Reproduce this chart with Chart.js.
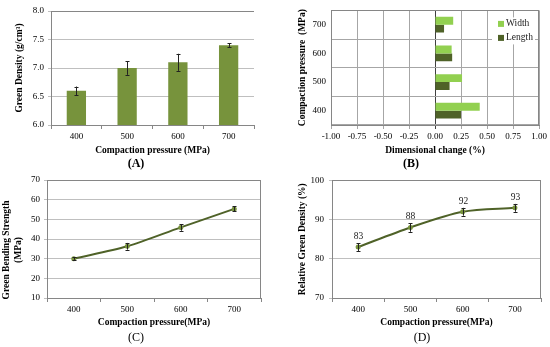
<!DOCTYPE html>
<html><head><meta charset="utf-8">
<script src="https://cdn.jsdelivr.net/npm/chart.js@4.4.0/dist/chart.umd.min.js"></script>
<style>
body{margin:0;background:#fff;}
#wrap{position:relative;width:550px;height:347px;background:#fff;overflow:hidden;}
canvas{position:absolute;}
</style></head><body>
<div id="wrap">
<canvas id="cA" width="275" height="175" style="left:0;top:0"></canvas>
<canvas id="cB" width="275" height="175" style="left:275px;top:0"></canvas>
<canvas id="cC" width="275" height="177" style="left:0;top:170px"></canvas>
<canvas id="cD" width="275" height="177" style="left:275px;top:170px"></canvas>
</div>
<script>
// ---- data ----
const pressures = ['400', '500', '600', '700'];
const greenDensity = [6.6, 7.0, 7.1, 7.4];
const greenDensityErr = [0.075, 0.12, 0.15, 0.03];
const dimPressures = ['700', '600', '500', '400'];
const widthChange = [0.175, 0.16, 0.26, 0.43];
const lengthChange = [0.087, 0.165, 0.14, 0.25];
const bendingStrength = [30, 36.3, 45.9, 55.3];
const bendingErr = [0.6, 1.7, 1.7, 1.3];
const relDensity = [83, 88, 92, 93];
const relDensityErr = [1, 1.1, 1, 1];

const SERIF = '"Liberation Serif", "Times New Roman", serif';
const AXIS = '#868686', GRID = '#BFBFBF';
Chart.defaults.font.family = SERIF;
Chart.defaults.color = '#000';

const frame = {
  id: 'frame',
  afterDraw(chart, args, o) {
    const {ctx, chartArea: a} = chart;
    ctx.save(); ctx.strokeStyle = o.color || AXIS; ctx.lineWidth = 1;
    if (o.top) { ctx.beginPath(); ctx.moveTo(a.left, Math.round(a.top) + 0.5); ctx.lineTo(a.right, Math.round(a.top) + 0.5); ctx.stroke(); }
    if (o.right) { ctx.beginPath(); ctx.moveTo(Math.round(a.right) - 0.5, a.top); ctx.lineTo(Math.round(a.right) - 0.5, a.bottom); ctx.stroke(); }
    ctx.restore();
  }
};
const errorBars = {
  id: 'errorBars',
  afterDatasetsDraw(chart, args, o) {
    if (!o.errors) return;
    const {ctx} = chart; const ys = chart.scales.y;
    const meta = chart.getDatasetMeta(0); const data = chart.data.datasets[0].data;
    ctx.save(); ctx.strokeStyle = o.color || '#222'; ctx.lineWidth = 1;
    meta.data.forEach((el, i) => {
      const x = Math.round(el.x) + 0.5;
      const y1 = ys.getPixelForValue(data[i] - o.errors[i]);
      const y2 = ys.getPixelForValue(data[i] + o.errors[i]);
      ctx.beginPath();
      ctx.moveTo(x, y1); ctx.lineTo(x, y2);
      ctx.moveTo(x - 2, Math.round(y1) + 0.5); ctx.lineTo(x + 2, Math.round(y1) + 0.5);
      ctx.moveTo(x - 2, Math.round(y2) + 0.5); ctx.lineTo(x + 2, Math.round(y2) + 0.5);
      ctx.stroke();
      if (o.labels) {
        ctx.fillStyle = '#222'; ctx.font = '9.5px ' + SERIF; ctx.textAlign = 'center'; ctx.textBaseline = 'bottom';
        ctx.fillText(String(data[i]), x, y2 - 2);
      }
    });
    ctx.restore();
  }
};
const boxLegend = {
  id: 'boxLegend',
  afterDraw(chart) {
    const {ctx, chartArea: a} = chart;
    const x0 = a.right - 47, y0 = a.top + 7;
    ctx.save();
    ctx.fillStyle = '#fff'; ctx.fillRect(x0, y0, 43, 27);
    ctx.font = '9.5px ' + SERIF; ctx.textBaseline = 'middle'; ctx.textAlign = 'left';
    chart.data.datasets.forEach((ds, i) => {
      const cy = y0 + 6.5 + i * 14;
      ctx.fillStyle = ds.backgroundColor; ctx.fillRect(x0 + 6, cy - 3, 6, 6);
      ctx.fillStyle = '#222'; ctx.fillText(ds.label, x0 + 14, cy);
    });
    ctx.restore();
  }
};
const panelLabel = {
  id: 'panelLabel',
  afterDraw(chart, args, o) {
    const {ctx} = chart;
    ctx.save();
    ctx.fillStyle = '#000'; ctx.font = (o.bold ? 'bold ' : '') + '12px ' + SERIF;
    ctx.textAlign = 'center'; ctx.textBaseline = 'middle';
    ctx.fillText(o.text, o.x, o.y);
    ctx.restore();
  }
};
const sideTitle = {
  id: 'sideTitle',
  afterDraw(chart, args, o) {
    if (!o.lines) return;
    const {ctx} = chart;
    ctx.save();
    ctx.fillStyle = '#000'; ctx.font = 'bold 9.5px ' + SERIF;
    ctx.textAlign = 'center'; ctx.textBaseline = 'middle';
    o.lines.forEach((t, i) => {
      ctx.save(); ctx.translate(o.x + i * o.gap, o.y); ctx.rotate(-Math.PI / 2);
      ctx.fillText(t, 0, 0); ctx.restore();
    });
    ctx.restore();
  }
};

function titleFont() { return {family: SERIF, size: 9.5, weight: 'bold'}; }
function tickFont() { return {family: SERIF, size: 9}; }

// ---- A ----
new Chart(document.getElementById('cA'), {
  type: 'bar',
  data: {labels: pressures, datasets: [{data: greenDensity, backgroundColor: '#77933C', barPercentage: 0.38, categoryPercentage: 1}]},
  options: {
    responsive: false, animation: false, devicePixelRatio: 1,
    layout: {padding: {left: 0, right: 21, top: 11, bottom: 15}},
    plugins: {legend: {display: false}, tooltip: {enabled: false},
      errorBars: {errors: greenDensityErr}, frame: {top: true},
      panelLabel: {text: '(A)', x: 136, y: 164, bold: true}},
    scales: {
      x: {grid: {offset: true, drawOnChartArea: false, tickLength: 4, color: AXIS}, border: {color: AXIS},
        ticks: {font: tickFont(), padding: 2},
        title: {display: true, text: 'Compaction pressure (MPa)', font: titleFont(), padding: {top: 0, bottom: 4}},
        afterFit: s => { s.height = 35; }},
      y: {min: 6, max: 8, ticks: {stepSize: 0.5, font: tickFont(), padding: 4, callback: v => v.toFixed(1)},
        grid: {color: GRID, tickLength: 3}, border: {color: AXIS},
        title: {display: true, text: 'Green Density (g/cm³)', font: titleFont(), padding: {top: 14, bottom: 0}},
        afterFit: s => { s.width = 51; }}
    }
  },
  plugins: [errorBars, frame, panelLabel]
});

// ---- B ----
new Chart(document.getElementById('cB'), {
  type: 'bar',
  data: {labels: dimPressures, datasets: [
    {label: 'Width', data: widthChange, backgroundColor: '#92D050', barPercentage: 1, categoryPercentage: 0.55},
    {label: 'Length', data: lengthChange, backgroundColor: '#4F6228', barPercentage: 1, categoryPercentage: 0.55}
  ]},
  options: {
    indexAxis: 'y',
    responsive: false, animation: false, devicePixelRatio: 1,
    layout: {padding: {left: 0, right: 11, top: 10, bottom: 15}},
    plugins: {legend: {display: false}, tooltip: {enabled: false}, frame: {top: true, right: true},
      panelLabel: {text: '(B)', x: 136, y: 164, bold: true}},
    scales: {
      x: {min: -1, max: 1, ticks: {stepSize: 0.25, font: tickFont(), padding: 2, callback: v => v.toFixed(2)},
        grid: {color: c => (c.tick && c.tick.value === 0) ? '#404040' : '#A6A6A6', tickLength: 4}, border: {color: AXIS},
        title: {display: true, text: 'Dimensional change (%)', font: titleFont(), padding: {top: 0, bottom: 4}},
        afterFit: s => { s.height = 35; }},
      y: {grid: {offset: true, color: '#A6A6A6', drawTicks: false, tickLength: 0}, border: {color: AXIS},
        ticks: {font: tickFont(), padding: 5},
        title: {display: true, text: 'Compaction pressure  (MPa)', font: titleFont(), padding: {top: 22, bottom: 0}},
        afterFit: s => { s.width = 56; }}
    }
  },
  plugins: [frame, boxLegend, panelLabel]
});

// ---- C ----
new Chart(document.getElementById('cC'), {
  type: 'line',
  data: {labels: pressures, datasets: [{data: bendingStrength, borderColor: '#4F6228', borderWidth: 2, tension: 0.3,
    pointRadius: 2.5, pointBackgroundColor: '#77933C', pointBorderWidth: 0}]},
  options: {
    responsive: false, animation: false, devicePixelRatio: 1,
    layout: {padding: {left: 0, right: 14, top: 10, bottom: 17}},
    plugins: {legend: {display: false}, tooltip: {enabled: false},
      errorBars: {errors: bendingErr}, frame: {top: true, right: true},
      panelLabel: {text: '(C)', x: 136, y: 168, bold: false},
      sideTitle: {lines: ['Green Bending Strength', '(MPa)'], x: 7, y: 80, gap: 12}},
    scales: {
      x: {offset: true, grid: {offset: true, drawOnChartArea: false, tickLength: 4, color: AXIS}, border: {color: AXIS},
        ticks: {font: tickFont(), padding: 2},
        title: {display: true, text: 'Compaction pressure(MPa)', font: titleFont(), padding: {top: 0, bottom: 2}},
        afterFit: s => { s.height = 32; }},
      y: {min: 10, max: 70, ticks: {stepSize: 10, font: tickFont(), padding: 4},
        grid: {color: GRID, tickLength: 3}, border: {color: AXIS},
        afterFit: s => { s.width = 47; }}
    }
  },
  plugins: [errorBars, frame, panelLabel, sideTitle]
});

// ---- D ----
new Chart(document.getElementById('cD'), {
  type: 'line',
  data: {labels: pressures, datasets: [{data: relDensity, borderColor: '#4F6228', borderWidth: 2, tension: 0.3,
    pointRadius: 2.5, pointBackgroundColor: '#77933C', pointBorderWidth: 0}]},
  options: {
    responsive: false, animation: false, devicePixelRatio: 1,
    layout: {padding: {left: 0, right: 9, top: 10, bottom: 17}},
    plugins: {legend: {display: false}, tooltip: {enabled: false},
      errorBars: {errors: relDensityErr, labels: true}, frame: {top: true, right: true},
      panelLabel: {text: '(D)', x: 147, y: 168, bold: false}},
    scales: {
      x: {offset: true, grid: {offset: true, drawOnChartArea: false, tickLength: 4, color: AXIS}, border: {color: AXIS},
        ticks: {font: tickFont(), padding: 2},
        title: {display: true, text: 'Compaction pressure(MPa)', font: titleFont(), padding: {top: 0, bottom: 2}},
        afterFit: s => { s.height = 32; }},
      y: {min: 70, max: 100, ticks: {stepSize: 10, font: tickFont(), padding: 5},
        grid: {color: GRID, tickLength: 3}, border: {color: AXIS},
        title: {display: true, text: 'Relative Green Density (%)', font: titleFont(), padding: {top: 22, bottom: 0}},
        afterFit: s => { s.width = 57; }}
    }
  },
  plugins: [errorBars, frame, panelLabel]
});
</script>
</body></html>
